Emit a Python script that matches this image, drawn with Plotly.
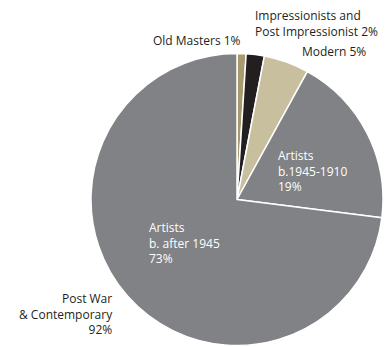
import plotly.graph_objects as go

labels = ["Old Masters", "Impressionists and Post Impressionist", "Modern",
          "Artists b.1945-1910", "Artists b. after 1945"]
values = [1, 2, 5, 19, 73]
colors = ["#A79A6F", "#231F20", "#C8BF9F", "#808285", "#808285"]

W, H = 388, 347

fig = go.Figure(go.Pie(
    labels=labels, values=values, sort=False, direction="clockwise", rotation=0,
    marker=dict(colors=colors, line=dict(color="white", width=1.5)),
    textinfo="none", hoverinfo="label+percent", showlegend=False,
    domain=dict(x=[91 / W, 383 / W], y=[0, 1 - 52 / H]),
))

FONT = "Open Sans"
def ann(text, x, y, align="left", xanchor="left", color="#231F20"):
    fig.add_annotation(text=text, x=x / W, y=1 - y / H, xref="paper", yref="paper",
                       xanchor=xanchor, yanchor="middle", align=align, showarrow=False,
                       font=dict(family=FONT, size=12, color=color))

ann(f"Old Masters {values[0]}%", 243, 40, align="right", xanchor="right")
ann(f"Impressionists and<br>Post Impressionist {values[1]}%", 253, 24)
ann(f"Modern {values[2]}%", 300, 52)
ann(f"Artists<br>b.1945-1910<br>{values[3]}%", 276, 171, color="white")
ann(f"Artists<br>b. after 1945<br>{values[4]}%", 147, 243, color="white")
ann(f"Post War<br>& Contemporary<br>{values[3] + values[4]}%", 115, 314, align="right", xanchor="right")

fig.update_layout(width=W, height=H, margin=dict(l=0, r=0, t=0, b=0),
                  paper_bgcolor="white", plot_bgcolor="white")
fig.write_html("out.html", config={"displayModeBar": False},
               post_script="document.body.style.margin='0';document.body.style.overflow='hidden';")
